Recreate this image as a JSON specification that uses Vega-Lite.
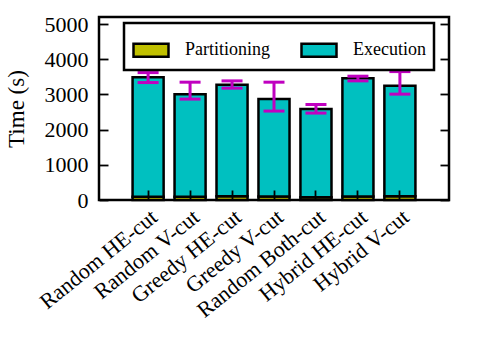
{
  "$schema": "https://vega.github.io/schema/vega-lite/v6.json",
  "width": 350,
  "height": 183,
  "autosize": "none",
  "padding": {"left": 99, "top": 17, "right": 49, "bottom": 141},
  "background": "white",
  "config": {
    "font": "Liberation Serif",
    "view": {"stroke": "black", "strokeWidth": 2.5},
    "axis": {"domain": false, "grid": false, "labelFont": "Liberation Serif", "labelColor": "black", "tickColor": "black", "tickWidth": 1.8, "titleFont": "Liberation Serif", "titleColor": "black", "titleFontWeight": "normal"},
    "legend": {"strokeWidth": 2.5}
  },
  "datasets": {
    "bars": [
      {"method": "Random HE-cut", "series": "Partitioning", "value": 90},
      {"method": "Random HE-cut", "series": "Execution", "value": 3400},
      {"method": "Random V-cut", "series": "Partitioning", "value": 90},
      {"method": "Random V-cut", "series": "Execution", "value": 2918},
      {"method": "Greedy HE-cut", "series": "Partitioning", "value": 110},
      {"method": "Greedy HE-cut", "series": "Execution", "value": 3162},
      {"method": "Greedy V-cut", "series": "Partitioning", "value": 100},
      {"method": "Greedy V-cut", "series": "Execution", "value": 2767},
      {"method": "Random Both-cut", "series": "Partitioning", "value": 80},
      {"method": "Random Both-cut", "series": "Execution", "value": 2504},
      {"method": "Hybrid HE-cut", "series": "Partitioning", "value": 100},
      {"method": "Hybrid HE-cut", "series": "Execution", "value": 3361},
      {"method": "Hybrid V-cut", "series": "Partitioning", "value": 110},
      {"method": "Hybrid V-cut", "series": "Execution", "value": 3134}
    ],
    "err": [
      {"method": "Random HE-cut", "lo": 3337, "hi": 3620},
      {"method": "Random V-cut", "lo": 2867, "hi": 3348},
      {"method": "Greedy HE-cut", "lo": 3178, "hi": 3385},
      {"method": "Greedy V-cut", "lo": 2527, "hi": 3348},
      {"method": "Random Both-cut", "lo": 2470, "hi": 2714},
      {"method": "Hybrid HE-cut", "lo": 3385, "hi": 3518},
      {"method": "Hybrid V-cut", "lo": 3008, "hi": 3649}
    ]
  },
  "layer": [
    {
      "data": {"name": "bars"},
      "mark": {"type": "bar", "stroke": "black", "strokeWidth": 2.5, "opacity": 1},
      "encoding": {
        "x": {
          "field": "method", "type": "nominal", "title": null,
          "scale": {"domain": ["Random HE-cut", "Random V-cut", "Greedy HE-cut", "Greedy V-cut", "Random Both-cut", "Hybrid HE-cut", "Hybrid V-cut"], "paddingInner": 0.26, "paddingOuter": 0.8},
          "axis": {"zindex": 2, "labelAngle": -39, "labelAlign": "right", "labelBaseline": "top", "labelFontSize": 22, "offset": -10, "tickSize": 10, "labelPadding": 6, "labelLimit": 300}
        },
        "y": {
          "field": "value", "type": "quantitative", "stack": "zero",
          "scale": {"domain": [0, 5200], "nice": false},
          "axis": {"zindex": 2, "orient": "left", "title": "Time (s)", "titleFontSize": 23, "titlePadding": 16, "labelFontSize": 22, "format": "d", "values": [0, 1000, 2000, 3000, 4000, 5000], "offset": -9, "tickSize": 9, "labelPadding": 11}
        },
        "color": {
          "field": "series", "type": "nominal",
          "scale": {"domain": ["Partitioning", "Execution"], "range": ["#c0c000", "#00c0c0"]},
          "legend": {"orient": "none", "legendX": 25, "legendY": 6, "direction": "horizontal", "columns": 2, "title": null, "symbolType": "M-1,-0.37H1V0.37H-1Z", "symbolSize": 1225, "symbolStrokeColor": "black", "symbolStrokeWidth": 2.5, "symbolOpacity": 1, "labelFontSize": 18, "labelFont": "Liberation Serif", "labelColor": "black", "labelOffset": 15, "columnPadding": 26, "strokeColor": "black", "fillColor": "white", "padding": 8, "labelLimit": 200, "zindex": 3}
        },
        "order": {"field": "series", "sort": "descending"}
      }
    },
    {
      "data": {"name": "err"},
      "mark": {"type": "rule", "color": "#c000c0", "strokeWidth": 3},
      "encoding": {
        "x": {"field": "method", "type": "nominal", "title": null},
        "y": {"field": "lo", "type": "quantitative", "axis": {"zindex": 2, "orient": "right", "labels": false, "title": null, "values": [0, 1000, 2000, 3000, 4000, 5000], "offset": -9, "tickSize": 9}},
        "y2": {"field": "hi"}
      }
    },
    {
      "data": {"name": "err"},
      "mark": {"type": "tick", "color": "#c000c0", "thickness": 3, "size": 21, "opacity": 1},
      "encoding": {
        "x": {"field": "method", "type": "nominal", "title": null},
        "y": {"field": "lo", "type": "quantitative", "axis": null}
      }
    },
    {
      "data": {"name": "err"},
      "mark": {"type": "tick", "color": "#c000c0", "thickness": 3, "size": 21, "opacity": 1},
      "encoding": {
        "x": {"field": "method", "type": "nominal", "title": null},
        "y": {"field": "hi", "type": "quantitative", "axis": null}
      }
    }
  ],
  "resolve": {"axis": {"y": "independent"}}
}
